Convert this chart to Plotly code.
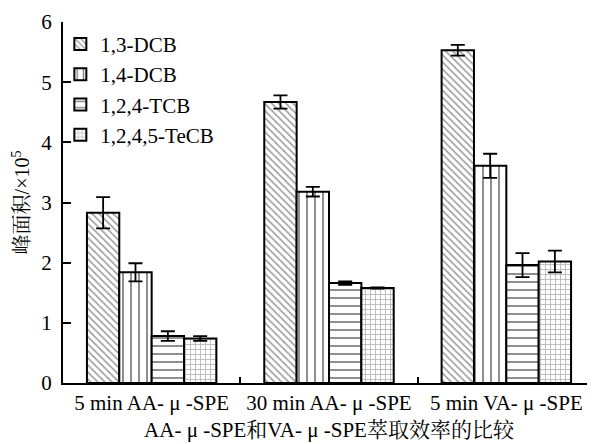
import plotly.graph_objects as go

categories = ["5 min AA- μ -SPE", "30 min AA- μ -SPE", "5 min VA- μ -SPE"]
series_names = ["1,3-DCB", "1,4-DCB", "1,2,4-TCB", "1,2,4,5-TeCB"]
dcb13 = [2.83, 4.67, 5.53]
dcb13_err = [0.26, 0.11, 0.09]
dcb14 = [1.84, 3.18, 3.61]
dcb14_err = [0.15, 0.08, 0.20]
tcb124 = [0.78, 1.66, 1.96]
tcb124_err = [0.08, 0.03, 0.20]
tecb1245 = [0.74, 1.58, 2.02]
tecb1245_err = [0.04, 0.01, 0.18]
y_ticks = [0, 1, 2, 3, 4, 5, 6]

values = [dcb13, dcb14, tcb124, tecb1245]
errors = [dcb13_err, dcb14_err, tcb124_err, tecb1245_err]
patterns = [
    dict(shape="\\", size=5, solidity=0.3, fgcolor="#333333", bgcolor="white"),
    dict(shape="|", size=8, solidity=0.22, fgcolor="black", bgcolor="white"),
    dict(shape="-", size=8, solidity=0.22, fgcolor="black", bgcolor="white"),
    dict(shape="+", size=5, solidity=0.3, fgcolor="#666666", bgcolor="white"),
]

serif = "Liberation Serif, Times New Roman, serif"
cjk = "Liberation Serif, Noto Serif CJK SC, Noto Sans CJK SC, serif"

fig = go.Figure()
for name, vals, errs, pat in zip(series_names, values, errors, patterns):
    fig.add_trace(go.Bar(
        x=categories, y=vals, name=name,
        marker=dict(color="white", line=dict(color="black", width=2), pattern=pat),
        error_y=dict(type="data", array=errs, visible=True, color="black",
                     thickness=1.8, width=7),
    ))

fig.update_layout(
    width=587, height=436,
    margin=dict(l=55, r=0, t=14, b=61),
    paper_bgcolor="white", plot_bgcolor="white",
    barmode="group", bargap=0.27, bargroupgap=0,
    font=dict(family=serif, color="black", size=21),
    legend=dict(x=-0.005, y=0.995, xanchor="left", yanchor="top",
                font=dict(size=21, family=serif), bgcolor="rgba(0,0,0,0)",
                itemwidth=30, tracegroupgap=0),
    xaxis=dict(
        showline=True, linecolor="black", linewidth=2,
        ticks="inside", tickson="boundaries", ticklen=6, tickwidth=2, tickcolor="black",
        tickfont=dict(size=21, family=cjk),
        title=dict(text="AA- μ -SPE和VA- μ -SPE萃取效率的比较", font=dict(size=21, family=cjk), standoff=8),
        range=[-0.5, 2.5],
    ),
    yaxis=dict(
        range=[0, 6], tickvals=y_ticks,
        showline=True, linecolor="black", linewidth=2,
        ticks="inside", ticklen=8, tickwidth=2, tickcolor="black",
        showgrid=False, zeroline=False, ticklabelstandoff=5,
        tickfont=dict(size=21, family=serif),
        title=dict(text="峰面积/×10<sup>5</sup>", font=dict(size=20, family=cjk), standoff=6),
    ),
)

fig.write_html("out.html")
